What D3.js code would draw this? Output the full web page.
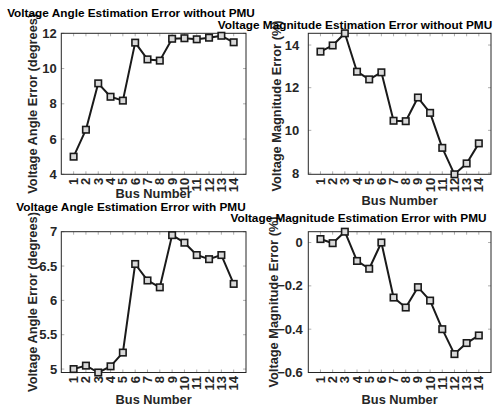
<!DOCTYPE html>
<html>
<head>
<meta charset="utf-8">
<script src="https://cdn.jsdelivr.net/npm/d3@7"></script>
<style>
  html, body { margin: 0; padding: 0; background: #fff; }
  svg { display: block; }
  text { font-family: "Liberation Sans", Arial, Helvetica, sans-serif; font-weight: bold; }
</style>
</head>
<body>
<svg id="chart" width="494" height="407"></svg>
<script>
// Bus numbers of the IEEE 14-bus system
const buses = [1, 2, 3, 4, 5, 6, 7, 8, 9, 10, 11, 12, 13, 14];

// Estimation errors per bus
const angleErrNoPmu   = [5.00, 6.53, 9.16, 8.40, 8.18, 11.47, 10.52, 10.45, 11.69, 11.72, 11.66, 11.75, 11.86, 11.49];
const magErrNoPmu     = [13.69, 13.98, 14.55, 12.75, 12.39, 12.72, 10.45, 10.43, 11.54, 10.82, 9.18, 7.94, 8.45, 9.39];
const angleErrWithPmu = [5.00, 5.05, 4.95, 5.04, 5.24, 6.53, 6.29, 6.19, 6.95, 6.84, 6.66, 6.60, 6.66, 6.24];
const magErrWithPmu   = [0.016, -0.003, 0.05, -0.085, -0.121, 0.0, -0.254, -0.30, -0.206, -0.268, -0.40, -0.515, -0.464, -0.429];

// Axis tick values
const angleNoPmuTicks   = [4, 6, 8, 10, 12];
const magNoPmuTicks     = [8, 10, 12, 14];
const angleWithPmuTicks = [5, 5.5, 6, 6.5, 7];
const magWithPmuTicks   = [-0.6, -0.4, -0.2, 0];

// Titles and labels
const titles = [
  "Voltage Angle Estimation Error without PMU",
  "Voltage Magnitude Estimation Error without PMU",
  "Voltage Angle Estimation Error with PMU",
  "Voltage Magnitude Estimation Error with PMU"
];
const yLabels = [
  "Voltage Angle Error (degrees)",
  "Voltage Magnitude Error (%)",
  "Voltage Angle Error (degrees)",
  "Voltage Magnitude Error (%)"
];
const xLabel = "Bus Number";

// Subplot layout
const panels = [
  { values: angleErrNoPmu,   ticks: angleNoPmuTicks,   yDomain: [4, 12],       fmt: d3.format("d"),
    x0: 61.3, x1: 246, y0: 33.3, y1: 174.3, titleX: 131, titleY: 17.3,
    ylabX: 37, ylabC: 103.8, xlabY: 197.5, gap: 4.5 },
  { values: magErrNoPmu,     ticks: magNoPmuTicks,     yDomain: [7.94, 14.55], fmt: d3.format("d"),
    x0: 308.3, x1: 491, y0: 33.3, y1: 174.3, titleX: 355, titleY: 29.3,
    ylabX: 281, ylabC: 106, xlabY: 205, gap: 9 },
  { values: angleErrWithPmu, ticks: angleWithPmuTicks, yDomain: [4.95, 7],     fmt: d3.format("~g"),
    x0: 61.3, x1: 246, y0: 231.7, y1: 372.5, titleX: 131, titleY: 211,
    ylabX: 36.5, ylabC: 302, xlabY: 404, gap: 4 },
  { values: magErrWithPmu,   ticks: magWithPmuTicks,   yDomain: [-0.6, 0.05],  fmt: d3.format("~g"),
    x0: 308.3, x1: 491, y0: 231.7, y1: 372.5, titleX: 358.5, titleY: 221.5,
    ylabX: 278, ylabC: 302, xlabY: 404, gap: 5.5 }
];

const svg = d3.select("#chart");
const tickLen = 3;

panels.forEach((p, i) => {
  const x = d3.scaleLinear().domain([0, 15]).range([p.x0, p.x1]);
  const y = d3.scaleLinear().domain(p.yDomain).range([p.y1, p.y0]);
  const g = svg.append("g");

  // Inward ticks on all four sides
  const tickColor = "#9a9a9a";
  g.selectAll(".xtb").data(buses).join("line")
    .attr("x1", d => x(d)).attr("x2", d => x(d))
    .attr("y1", p.y1).attr("y2", p.y1 - tickLen)
    .attr("stroke", tickColor).attr("stroke-width", 0.8);
  g.selectAll(".xtt").data(buses).join("line")
    .attr("x1", d => x(d)).attr("x2", d => x(d))
    .attr("y1", p.y0).attr("y2", p.y0 + tickLen)
    .attr("stroke", tickColor).attr("stroke-width", 0.8);
  g.selectAll(".ytl").data(p.ticks).join("line")
    .attr("x1", p.x0).attr("x2", p.x0 + tickLen)
    .attr("y1", d => y(d)).attr("y2", d => y(d))
    .attr("stroke", tickColor).attr("stroke-width", 0.8);
  g.selectAll(".ytr").data(p.ticks).join("line")
    .attr("x1", p.x1).attr("x2", p.x1 - tickLen)
    .attr("y1", d => y(d)).attr("y2", d => y(d))
    .attr("stroke", tickColor).attr("stroke-width", 0.8);

  // Axes box
  g.append("rect")
    .attr("x", p.x0).attr("y", p.y0)
    .attr("width", p.x1 - p.x0).attr("height", p.y1 - p.y0)
    .attr("fill", "none").attr("stroke", "#262626").attr("stroke-width", 1);

  // Y tick labels
  g.selectAll(".ylab").data(p.ticks).join("text")
    .attr("x", p.x0 - p.gap).attr("y", d => y(d))
    .attr("dy", "0.35em")
    .attr("text-anchor", "end")
    .attr("font-size", 13)
    .attr("fill", "#262626")
    .text(d => p.fmt(d));

  // X tick labels, rotated
  g.selectAll(".xlab").data(buses).join("text")
    .attr("transform", d => `translate(${x(d)},${p.y1 + 3.5}) rotate(-90)`)
    .attr("dy", "0.35em")
    .attr("text-anchor", "end")
    .attr("font-size", 13)
    .attr("fill", "#262626")
    .text(d => d);

  // Error line
  const line = d3.line().x((d, k) => x(buses[k])).y(d => y(d));
  g.append("path")
    .datum(p.values)
    .attr("d", line)
    .attr("fill", "none")
    .attr("stroke", "#1a1a1a")
    .attr("stroke-width", 2)
    .attr("stroke-linejoin", "round");

  // Square markers
  const m = 6.5;
  g.selectAll(".mk").data(p.values).join("rect")
    .attr("x", (d, k) => x(buses[k]) - m / 2)
    .attr("y", d => y(d) - m / 2)
    .attr("width", m).attr("height", m)
    .attr("fill", "#d9d9d9")
    .attr("stroke", "#1a1a1a")
    .attr("stroke-width", 1.6);

  // X axis label
  g.append("text")
    .attr("x", (p.x0 + p.x1) / 2).attr("y", p.xlabY)
    .attr("text-anchor", "middle")
    .attr("font-size", 12.8)
    .attr("fill", "#262626")
    .text(xLabel);

  // Y axis label
  g.append("text")
    .attr("transform", `translate(${p.ylabX},${p.ylabC}) rotate(-90)`)
    .attr("text-anchor", "middle")
    .attr("font-size", 12.8)
    .attr("fill", "#262626")
    .text(yLabels[i]);

  // Title
  g.append("text")
    .attr("x", p.titleX).attr("y", p.titleY)
    .attr("text-anchor", "middle")
    .attr("font-size", 11.8)
    .attr("fill", "#000")
    .text(titles[i]);
});
</script>
</body>
</html>
